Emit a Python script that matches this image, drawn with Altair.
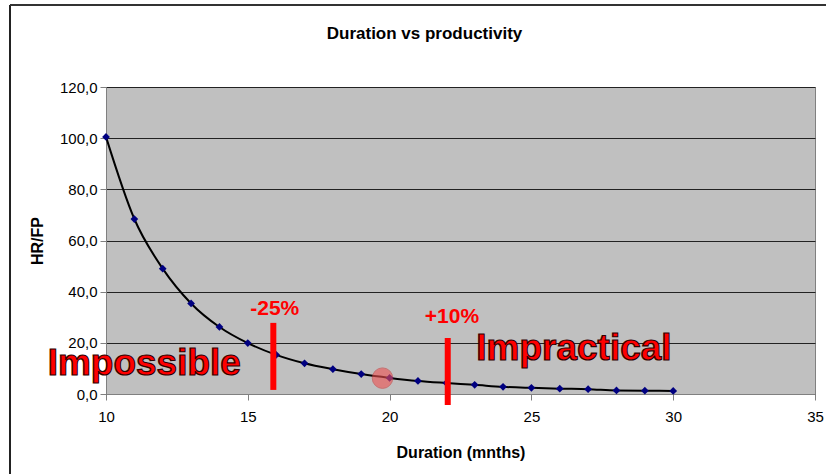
import altair as alt
import pandas as pd

# Data
duration = [10, 11, 12, 13, 14, 15, 16, 17, 18, 19, 20, 21, 22, 23, 24, 25, 26, 27, 28, 29, 30]
hr_fp = [100.5, 68.4, 49.0, 35.4, 26.2, 19.9, 15.3, 12.0, 9.7, 7.8, 6.3, 5.1, 4.3, 3.6, 2.8, 2.4, 2.1, 1.9, 1.4, 1.3, 1.2]

# annotations
bar_x = [15.9, 22.05]
bar_y1 = [1.6, -4.3]
bar_y2 = [27.8, 21.9]
pct_labels = ["-25%", "+10%"]
pct_x = [15.95, 22.2]
pct_y = [29.5, 26.2]
zone_labels = ["Impossible", "Impractical"]
zone_x = [11.35, 26.5]
zone_y = [7.4, 13.3]
circle_x = [19.75]
circle_y = [6.2]

df = pd.DataFrame({"d": duration, "v": hr_fp})
bars = pd.DataFrame({"x": bar_x, "y1": bar_y1, "y2": bar_y2})
pcts = pd.DataFrame({"x": pct_x, "y": pct_y, "t": pct_labels})
zones = pd.DataFrame({"x": zone_x, "y": zone_y, "t": zone_labels})
circ = pd.DataFrame({"x": circle_x, "y": circle_y})

FONT = "Liberation Sans"

xs = alt.Scale(domain=[10, 35], nice=False, zero=False)
ys = alt.Scale(domain=[0, 120], nice=False)

xenc = alt.X("d:Q", scale=xs, title="Duration (mnths)",
             axis=alt.Axis(values=[10, 15, 20, 25, 30, 35], grid=False, tickSize=6,
                           domainColor="#808080", tickColor="#808080",
                           labelFontSize=15, labelPadding=9, labelColor="#000",
                           labelFont=FONT, labelFlush=False,
                           titleFont=FONT, titleFontSize=16, titleFontWeight="bold",
                           titlePadding=20, titleColor="#000"))
yenc = alt.Y("v:Q", scale=ys, title="HR/FP",
             axis=alt.Axis(values=[0, 20, 40, 60, 80, 100, 120], grid=True, gridColor="#222",
                           gridWidth=1, tickSize=6, domainColor="#808080", tickColor="#808080",
                           labelExpr="replace(format(datum.value, '.1f'), '.', ',')",
                           labelFontSize=15, labelPadding=3, labelColor="#000",
                           labelFont=FONT,
                           titleFont=FONT, titleFontSize=16, titleFontWeight="bold",
                           titlePadding=14, titleColor="#000"))

line = alt.Chart(df).mark_line(color="black", strokeWidth=2, interpolate="monotone").encode(x=xenc, y=yenc)
pts = alt.Chart(df).mark_point(shape="diamond", filled=True, color="#000080", size=60, opacity=1).encode(
    x="d:Q", y="v:Q")

circle = alt.Chart(circ).mark_circle(size=420, color="#F05050", opacity=0.6, stroke="#C84040",
                                     strokeWidth=1).encode(x="x:Q", y="y:Q")

redbars = alt.Chart(bars).mark_rule(color="#FF0000", strokeWidth=6).encode(x="x:Q", y="y1:Q", y2="y2:Q")

pcttext = alt.Chart(pcts).mark_text(color="#FF0000", font=FONT, fontWeight="bold",
                                    fontSize=21, baseline="bottom", align="center").encode(
    x="x:Q", y="y:Q", text="t:N")

zonetext = alt.Chart(zones).mark_text(color="#FF0000", stroke="#300000", strokeWidth=1.2,
                                      font=FONT, fontWeight="bold",
                                      fontSize=37, baseline="alphabetic", align="center").encode(
    x="x:Q", y="y:Q", text="t:N")

frame_left = alt.Chart(df).mark_rule(color="#222", strokeWidth=2).encode(
    x=alt.value(-96), y=alt.value(-82), y2=alt.value(400))
frame_top = alt.Chart(df).mark_rule(color="#333", strokeWidth=2).encode(
    x=alt.value(-96), x2=alt.value(730), y=alt.value(-82))

chart = alt.layer(frame_left, frame_top, line, pts, circle, redbars, pcttext, zonetext).properties(
    width=709, height=307,
    background="white",
    title=alt.Title("Duration vs productivity", font=FONT, fontSize=17,
                    fontWeight="bold", color="#000", offset=-39, dx=-36, anchor="middle"),
    autosize=alt.AutoSizeParams(type="none"),
    padding={"left": 106, "top": 87, "right": 11, "bottom": 80},
).configure_view(fill="#C0C0C0", stroke="#808080", strokeWidth=1)

chart.save("out.html", embed_options={"renderer": "svg", "actions": False})
